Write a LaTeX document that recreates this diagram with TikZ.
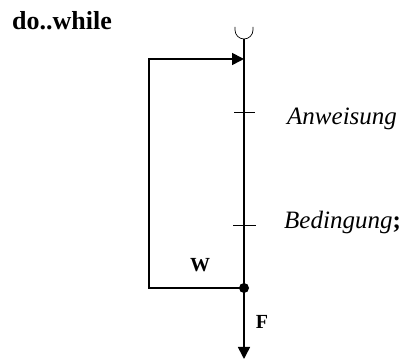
\documentclass[tikz,border=0pt]{standalone}
\usepackage{fontspec}
\setmainfont{Liberation Serif}
\usetikzlibrary{positioning, arrows.meta}

\begin{document}
\begin{tikzpicture}[x=1pt, y=1pt, >={Triangle[length=12pt, width=12pt]},
    flow/.style={line width=1.6pt},
    tickmark/.style={line width=0.8pt},
    titletext/.style={font=\fontsize{26}{30}\selectfont\bfseries},
    steptext/.style={font=\fontsize{25}{30}\selectfont\itshape},
    branchtext/.style={font=\fontsize{20}{24}\selectfont\bfseries},
    every node/.style={inner sep=0pt}]
    \useasboundingbox (0,0) rectangle (407,361);

    % Title
    \node [titletext, anchor=base west] (title) at (12,331) {do..while};

    % Points on the flow line
    \coordinate (top)   at (244,322);
    \coordinate (entry) at (244,302);
    \coordinate (t1)    at (244,249);
    \coordinate (t2)    at (244,136);
    \coordinate (join)  at (244,73);
    \coordinate (exit)  at (244,2);
    \coordinate (loopbot) at (149,73);
    \coordinate (looptop) at (149,302);

    % Entry cup
    \draw [line width=0.7pt] ([xshift=-9pt, yshift=12pt]top) -- ++(0,-3)
        arc [start angle=180, end angle=360, radius=9pt] -- ++(0,3);

    % Main line and exit
    \draw [flow] (top) -- (join);
    \draw [flow, ->] (join) -- (exit);

    % Back loop
    \draw [flow, ->] (join) -- (loopbot) -- (looptop) -- (entry);
    \fill (join) circle (5pt);

    % Ticks
    \draw [tickmark] ([xshift=-10pt]t1) -- ([xshift=11pt]t1);
    \draw [tickmark] ([xshift=-11pt]t2) -- ([xshift=12pt]t2);

    % Labels
    \node [steptext, anchor=base west] (stmt) at (287,236) {Anweisung};
    \node [steptext, anchor=base west] (cond) at (284,132) {Bedingung\textup{\textbf{;}}};
    \node [branchtext] (wlabel) at (200,96) {W};
    \node [branchtext] (flabel) at (262,39) {F};
\end{tikzpicture}
\end{document}
